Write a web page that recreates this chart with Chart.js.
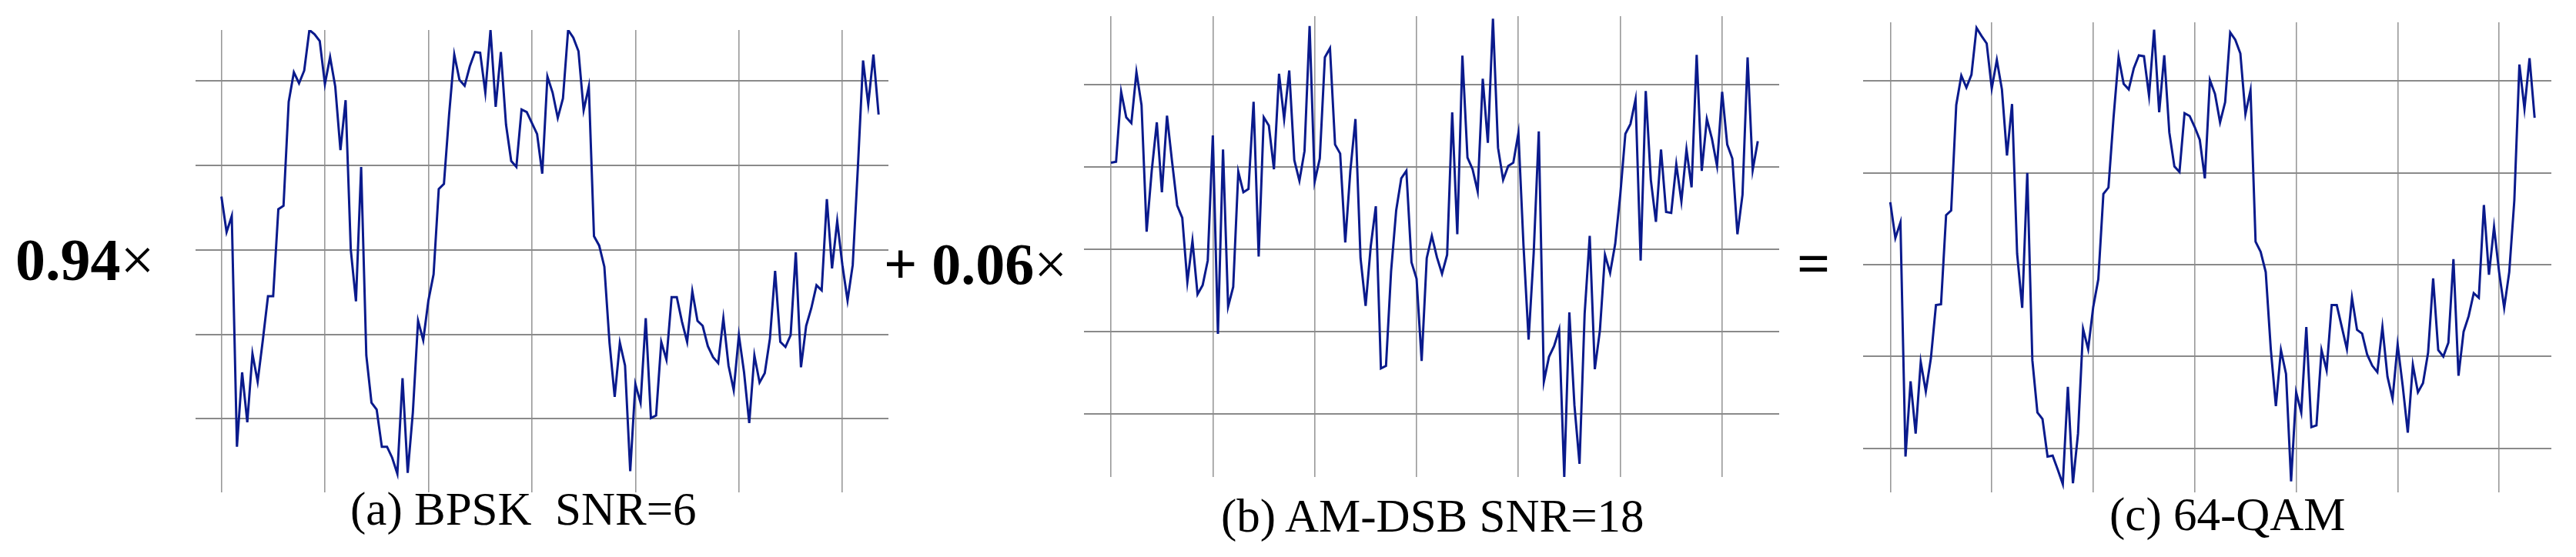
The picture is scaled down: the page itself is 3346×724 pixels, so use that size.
<!DOCTYPE html>
<html>
<head>
<meta charset="utf-8">
<script src="https://cdn.jsdelivr.net/npm/chart.js@4.4.1/dist/chart.umd.min.js"></script>
<style>
    html, body { margin: 0; padding: 0; background: #fff; }
    #page { position: relative; width: 3346px; height: 724px; overflow: hidden; background: #fff; }
    canvas { position: absolute; }
    .txt { position: absolute; font-family: "Liberation Serif", "Times New Roman", serif; line-height: 1; white-space: pre; color: #000; }
    .big { font-size: 78px; font-weight: bold; }
    .big .x { font-weight: normal; }
    .cap { font-size: 61px; }
</style>
</head>
<body>
<div id="page">
    <canvas id="chartA" width="900" height="601" style="left:254px; top:39px;"></canvas>
    <canvas id="chartB" width="903" height="599" style="left:1408px; top:21px;"></canvas>
    <canvas id="chartC" width="894" height="611" style="left:2420px; top:29px;"></canvas>

    <div class="txt big" style="left:20px; top:299px;">0.94<span class="x">×</span></div>
    <div class="txt big" style="left:1148px; top:305px; font-size:76px;">+ 0.06<span class="x">×</span></div>
    <div class="txt big" style="left:2334px; top:304px; font-size:76px;">=</div>

    <div class="txt cap" style="left:455px; top:631px;">(a) BPSK  SNR=6</div>
    <div class="txt cap" style="left:1586px; top:640px;">(b) AM-DSB SNR=18</div>
    <div class="txt cap" style="left:2740px; top:638px;">(c) 64-QAM</div>
</div>

<script>
// sample index along each trace (128 samples)
const sampleIdx = Array.from({ length: 128 }, (_, i) => i);
const xGridTicks = [0, 20, 40, 60, 80, 100, 120];
const yGridTicks = [-2, -1, 0, 1, 2];

// values, in grid-line units
const bpskSnr6 = [
    0.63, 0.21, 0.40, -2.33, -1.45, -2.04, -1.23, -1.56, -1.07, -0.55,
    -0.55, 0.48, 0.52, 1.75, 2.10, 1.97, 2.12, 2.60, 2.55, 2.47,
    1.96, 2.28, 1.93, 1.18, 1.77, 0.00, -0.61, 0.98, -1.25, -1.81,
    -1.89, -2.33, -2.33, -2.46, -2.65, -1.52, -2.64, -1.92, -0.84, -1.07,
    -0.60, -0.29, 0.72, 0.78, 1.60, 2.31, 2.01, 1.94, 2.17, 2.34,
    2.33, 1.86, 2.60, 1.69, 2.34, 1.48, 1.05, 0.98, 1.66, 1.63,
    1.50, 1.37, 0.90, 2.05, 1.86, 1.56, 1.79, 2.60, 2.51, 2.35,
    1.65, 1.93, 0.16, 0.05, -0.20, -1.10, -1.74, -1.10, -1.37, -2.62,
    -1.59, -1.81, -0.81, -1.99, -1.96, -1.09, -1.30, -0.56, -0.56, -0.85,
    -1.09, -0.49, -0.84, -0.90, -1.14, -1.27, -1.34, -0.81, -1.37, -1.66,
    -1.01, -1.45, -2.05, -1.25, -1.57, -1.46, -1.05, -0.25, -1.09, -1.15,
    -1.01, -0.03, -1.39, -0.90, -0.69, -0.42, -0.48, 0.60, -0.22, 0.34,
    -0.18, -0.60, -0.18, 0.98, 2.24, 1.72, 2.31, 1.60
];

const amdsbSnr18 = [
    1.05, 1.06, 1.91, 1.60, 1.53, 2.15, 1.75, 0.21, 0.95, 1.54,
    0.69, 1.62, 1.06, 0.53, 0.38, -0.40, 0.10, -0.55, -0.44, -0.14,
    1.38, -1.03, 1.21, -0.70, -0.46, 0.94, 0.69, 0.73, 1.79, -0.09,
    1.60, 1.50, 0.97, 2.13, 1.58, 2.17, 1.08, 0.83, 1.19, 2.71,
    0.82, 1.10, 2.33, 2.44, 1.27, 1.16, 0.08, 0.95, 1.58, -0.11,
    -0.69, 0.03, 0.52, -1.45, -1.42, -0.27, 0.47, 0.86, 0.95, -0.16,
    -0.36, -1.36, -0.11, 0.16, -0.10, -0.30, -0.07, 1.66, 0.18, 2.35,
    1.11, 0.97, 0.70, 2.07, 1.29, 2.80, 1.23, 0.84, 1.01, 1.05,
    1.41, 0.04, -1.10, -0.05, 1.43, -1.61, -1.31, -1.18, -0.98, -2.77,
    -0.77, -1.90, -2.61, -0.79, 0.16, -1.46, -0.99, -0.07, -0.29, 0.06,
    0.66, 1.40, 1.52, 1.82, -0.14, 1.92, 0.84, 0.33, 1.21, 0.45,
    0.44, 1.03, 0.58, 1.21, 0.75, 2.36, 0.95, 1.58, 1.34, 1.01,
    1.91, 1.27, 1.10, 0.18, 0.66, 2.33, 0.96, 1.31
];

const qam64Mix = [
    0.68, 0.29, 0.46, -2.09, -1.27, -1.84, -1.06, -1.38, -1.02, -0.44,
    -0.43, 0.54, 0.59, 1.74, 2.06, 1.93, 2.07, 2.58, 2.49, 2.41,
    1.92, 2.23, 1.91, 1.19, 1.75, 0.12, -0.47, 1.00, -1.04, -1.61,
    -1.68, -2.09, -2.08, -2.23, -2.39, -1.33, -2.38, -1.84, -0.70, -0.92,
    -0.46, -0.16, 0.77, 0.84, 1.60, 2.26, 1.97, 1.91, 2.14, 2.28,
    2.27, 1.84, 2.56, 1.66, 2.28, 1.44, 1.07, 1.01, 1.65, 1.62,
    1.50, 1.36, 0.94, 2.01, 1.86, 1.55, 1.77, 2.53, 2.45, 2.30,
    1.64, 1.90, 0.25, 0.14, -0.08, -0.92, -1.54, -0.93, -1.19, -2.36,
    -1.39, -1.61, -0.68, -1.77, -1.75, -0.93, -1.15, -0.44, -0.44, -0.68,
    -0.92, -0.36, -0.71, -0.75, -0.98, -1.10, -1.17, -0.68, -1.22, -1.46,
    -0.87, -1.32, -1.83, -1.09, -1.39, -1.29, -0.96, -0.15, -0.93, -1.00,
    -0.85, 0.06, -1.21, -0.73, -0.56, -0.31, -0.36, 0.65, -0.11, 0.41,
    -0.08, -0.47, -0.08, 0.70, 2.18, 1.70, 2.25, 1.60
];

function makeChart(id, values, xMin, xMax, yMin, yMax) {
    const ctx = document.getElementById(id).getContext('2d');
    return new Chart(ctx, {
        type: 'line',
        data: {
            datasets: [{
                data: values.map((v, i) => ({ x: sampleIdx[i], y: v })),
                borderColor: '#0a1a8c',
                borderWidth: 3,
                pointRadius: 0,
                tension: 0,
                fill: false
            }]
        },
        options: {
            responsive: false,
            animation: false,
            devicePixelRatio: 1,
            layout: { padding: 0 },
            plugins: { legend: { display: false }, tooltip: { enabled: false } },
            scales: {
                x: {
                    type: 'linear',
                    min: xMin,
                    max: xMax,
                    afterBuildTicks: s => { s.ticks = xGridTicks.map(v => ({ value: v })); },
                    ticks: { display: false },
                    grid: { color: '#999999', lineWidth: 1.6, drawTicks: false },
                    border: { display: false }
                },
                y: {
                    type: 'linear',
                    min: yMin,
                    max: yMax,
                    afterBuildTicks: s => { s.ticks = yGridTicks.map(v => ({ value: v })); },
                    ticks: { display: false },
                    grid: { color: '#8a8a8a', lineWidth: 2, drawTicks: false },
                    border: { display: false }
                }
            }
        }
    });
}

makeChart('chartA', bpskSnr6, -5.0, 128.9, -2.87, 2.60);
makeChart('chartB', amdsbSnr18, -5.3, 131.2, -2.77, 2.83);
makeChart('chartC', qam64Mix, -5.36, 130.3, -2.48, 2.64);
</script>
</body>
</html>
